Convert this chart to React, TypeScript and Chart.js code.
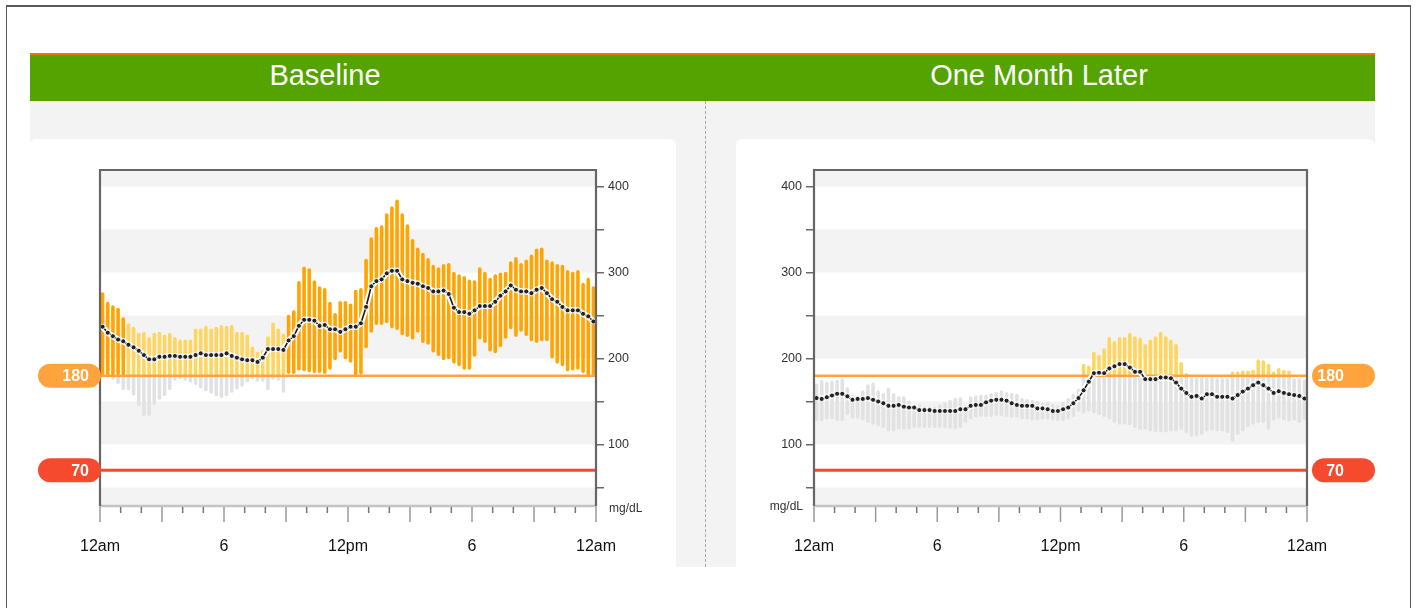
import React, { useEffect, useRef } from 'react';
import { Chart, registerables } from 'chart.js';

Chart.register(...registerables);
Chart.defaults.font.family = '"Liberation Sans", Arial, Helvetica, sans-serif';

// ---------- data ----------
const slotsPerHour = 4; // 15-minute slots, 96 per day
const xTickValues = [0, 6, 12, 18, 24];
const xTickLabels = ['12am', '6', '12pm', '6', '12am'];
const yTickValues = [50, 100, 150, 200, 250, 300, 350, 400];
const yLabelValues = [100, 200, 300, 400];
const bandRanges = [[0, 50], [100, 150], [200, 250], [300, 350], [400, 500]];
const thresholdValues = [180, 70];
const thresholdLabels = ['180', '70'];
const targetHigh = 180;
const severeMedian = 218;
const yMin = 28.5;
const yMax = 419.2;
const panelTitles = ['Baseline', 'One Month Later'];

const baselineHigh = [
  277, 266, 262, 259, 248, 241, 237, 230, 231, 225,
  230, 231, 228, 230, 225, 222, 222, 222, 235, 235,
  238, 235, 237, 239, 238, 239, 231, 231, 228, 214,
  208, 210, 226, 242, 235, 229, 251, 256, 290, 307,
  305, 291, 284, 282, 266, 253, 267, 267, 264, 280,
  282, 316, 341, 353, 355, 369, 377, 385, 369, 356,
  339, 329, 323, 317, 309, 306, 310, 311, 301, 298,
  296, 292, 291, 306, 301, 294, 298, 300, 301, 313,
  318, 311, 315, 321, 328, 329, 315, 313, 310, 309,
  303, 301, 303, 288, 294, 284,
];
const baselineLow = [
  180, 180, 175, 170, 163, 163, 157, 144, 133, 133,
  146, 152, 156, 163, 174, 176, 174, 172, 169, 165,
  162, 159, 156, 154, 156, 160, 164, 167, 172, 176,
  173, 173, 163, 175, 174, 160, 182, 182, 186, 185,
  184, 183, 183, 182, 187, 198, 207, 199, 195, 180,
  181, 212, 230, 239, 239, 241, 235, 233, 227, 225,
  222, 230, 218, 216, 207, 203, 198, 199, 194, 191,
  187, 187, 202, 222, 218, 208, 206, 213, 223, 234,
  225, 231, 226, 220, 218, 220, 220, 200, 194, 191,
  185, 186, 187, 183, 180, 180,
];
const baselineMedian = [
  237, 230, 226, 222, 220, 216, 213, 209, 204, 199,
  199, 202, 202, 203, 203, 202, 202, 202, 204, 206,
  204, 204, 204, 204, 206, 203, 201, 199, 198, 198,
  196, 201, 211, 211, 211, 210, 221, 226, 238, 245,
  245, 244, 238, 239, 234, 234, 231, 234, 237, 237,
  241, 260, 284, 290, 292, 299, 302, 302, 292, 290,
  288, 287, 284, 282, 278, 278, 279, 275, 259, 254,
  254, 252, 256, 261, 261, 261, 266, 273, 278, 285,
  280, 278, 278, 276, 280, 282, 276, 269, 266, 260,
  256, 256, 256, 252, 249, 243,
];

const monthHigh = [
  171, 175, 173, 174, 175, 177, 167, 158, 156, 163,
  170, 172, 163, 160, 166, 160, 156, 156, 151, 147,
  147, 144, 143, 144, 147, 149, 152, 154, 155, 146,
  156, 157, 158, 158, 160, 161, 163, 161, 160, 159,
  154, 153, 152, 151, 149, 150, 147, 146, 150, 154,
  159, 165, 194, 192, 208, 204, 212, 225, 220, 225,
  225, 230, 226, 224, 217, 222, 226, 231, 226, 222,
  217, 196, 183, 178, 178, 178, 178, 178, 177, 177,
  177, 185, 185, 186, 186, 187, 199, 198, 194, 185,
  189, 187, 186, 177, 177, 176,
];
const monthLow = [
  127, 127, 129, 129, 127, 127, 134, 130, 130, 128,
  125, 123, 121, 119, 115, 115, 117, 117, 117, 119,
  119, 119, 119, 119, 119, 119, 118, 118, 119, 125,
  129, 131, 132, 132, 132, 133, 133, 132, 131, 131,
  129, 129, 128, 128, 129, 129, 128, 127, 127, 129,
  132, 138, 136, 138, 136, 134, 132, 129, 125, 123,
  123, 122, 119, 117, 117, 115, 114, 114, 114, 115,
  115, 117, 113, 109, 109, 111, 115, 116, 115, 115,
  113, 103, 111, 115, 120, 123, 125, 125, 117, 128,
  130, 128, 127, 128, 125, 128,
];
const monthMedian = [
  154, 153, 155, 157, 159, 159, 156, 152, 153, 153,
  154, 152, 150, 148, 145, 145, 146, 144, 143, 143,
  140, 140, 140, 139, 139, 139, 139, 139, 141, 141,
  145, 146, 146, 149, 151, 152, 152, 151, 148, 146,
  145, 145, 145, 142, 142, 141, 139, 139, 141, 143,
  148, 154, 163, 173, 183, 183.5, 183, 188.5, 191, 193.5,
  193.5, 189.5, 184.5, 184.5, 176, 176, 176, 178, 178, 177,
  172, 165, 160, 155.5, 156.5, 153.5, 158.5, 158.5, 155.5, 155.5,
  155.5, 153.5, 157.5, 161.5, 165, 169, 172, 169, 165, 160,
  162, 160, 158.5, 157.5, 156.5, 153.5,
];

// ---------- styles ----------
const darkOrange = '#ffa400';
const lightYellow = '#ffd55e';
const grayBar = '#e2e2e2';
const bandGray = '#f3f3f3';
const thresholdColors = ['#ffa43d', '#f64a2e'];

type Side = 'left' | 'right';

function pillPath(ctx: CanvasRenderingContext2D, x: number, y: number, w: number, h: number) {
  const r = h / 2;
  ctx.beginPath();
  ctx.moveTo(x + r, y);
  ctx.lineTo(x + w - r, y);
  ctx.arc(x + w - r, y + r, r, -Math.PI / 2, Math.PI / 2);
  ctx.lineTo(x + r, y + h);
  ctx.arc(x + r, y + r, r, Math.PI / 2, Math.PI * 1.5);
  ctx.closePath();
}

const decorPlugin = {
  id: 'agpDecor',
  beforeDatasetsDraw(chart: any) {
    const { ctx, chartArea: a, scales } = chart;
    const y = scales.y;
    ctx.save();
    ctx.fillStyle = bandGray;
    for (const [lo, hi] of bandRanges) {
      const top = y.getPixelForValue(Math.min(hi, yMax));
      const bot = y.getPixelForValue(Math.max(lo, yMin));
      if (bot > top) ctx.fillRect(a.left, top, a.right - a.left, bot - top);
    }
    ctx.restore();
  },
  beforeDatasetDraw(chart: any, args: any) {
    if (args.index !== 1) return;
    const { ctx, chartArea: a, scales } = chart;
    const y = scales.y;
    ctx.save();
    thresholdValues.forEach((v, k) => {
      const py = y.getPixelForValue(v);
      ctx.strokeStyle = thresholdColors[k];
      ctx.lineWidth = k === 0 ? 2.5 : 3;
      ctx.beginPath();
      ctx.moveTo(a.left, py);
      ctx.lineTo(a.right, py);
      ctx.stroke();
    });
    ctx.restore();
  },
  afterDatasetsDraw(chart: any, _args: any, opts: any) {
    const side: Side = opts.side;
    const { ctx, chartArea: a, scales } = chart;
    const x = scales.x;
    const y = scales.y;
    ctx.save();
    // bottom axis line
    ctx.strokeStyle = '#c4c4c4';
    ctx.lineWidth = 2.5;
    ctx.beginPath();
    ctx.moveTo(a.left - 1, a.bottom);
    ctx.lineTo(a.right + 1, a.bottom);
    ctx.stroke();
    // frame
    ctx.strokeStyle = '#666';
    ctx.lineWidth = 2.2;
    ctx.beginPath();
    ctx.moveTo(a.left, a.bottom);
    ctx.lineTo(a.left, a.top);
    ctx.lineTo(a.right, a.top);
    ctx.lineTo(a.right, a.bottom);
    ctx.stroke();
    // hour ticks
    ctx.lineWidth = 1.5;
    for (let h = 0; h <= 24; h++) {
      const px = x.getPixelForValue(h);
      const major = h % 3 === 0;
      const len = major ? 16 : 7;
      ctx.strokeStyle = major ? '#999' : '#777';
      ctx.beginPath();
      ctx.moveTo(px, a.bottom + 1);
      ctx.lineTo(px, a.bottom + len);
      ctx.stroke();
    }
    // unit label
    ctx.fillStyle = '#333';
    ctx.font = '12px "Liberation Sans", Arial, sans-serif';
    ctx.textBaseline = 'middle';
    if (side === 'left') {
      ctx.textAlign = 'left';
      ctx.fillText('mg/dL', a.right + 13, a.bottom + 3);
    } else {
      ctx.textAlign = 'right';
      ctx.fillText('mg/dL', a.left - 11, a.bottom + 1);
    }
    // threshold pills
    thresholdValues.forEach((v, k) => {
      const py = y.getPixelForValue(v);
      const h = 24;
      const w = 63;
      const px = side === 'left' ? a.left - 62 : a.right + 5;
      ctx.fillStyle = thresholdColors[k];
      pillPath(ctx, px, py - h / 2, w, h);
      ctx.fill();
      ctx.fillStyle = '#ffffff';
      ctx.font = 'bold 16px "Liberation Sans", Arial, sans-serif';
      ctx.textAlign = 'right';
      ctx.textBaseline = 'middle';
      const tx = side === 'left' ? a.left - 11 : a.right + 37;
      ctx.fillText(thresholdLabels[k], tx, py + 1);
    });
    ctx.restore();
  },
};

function makeConfig(high: number[], low: number[], med: number[], side: Side): any {
  const above: any[] = [];
  const aboveColors: string[] = [];
  const below: any[] = [];
  high.forEach((h, i) => {
    const t = (i + 0.5) / slotsPerHour;
    const l = low[i];
    if (h > targetHigh) {
      above.push({ x: t, y: [Math.max(l, targetHigh), h] });
      aboveColors.push(med[i] >= severeMedian ? darkOrange : lightYellow);
    }
    if (l < targetHigh) below.push({ x: t, y: [l, Math.min(h, targetHigh)] });
  });
  const medianPts = med.map((m, i) => ({ x: (i + 0.5) / slotsPerHour, y: m }));

  return {
    type: 'bar',
    data: {
      datasets: [
        {
          type: 'line', label: 'median', data: medianPts, order: 0,
          borderColor: '#1a1a1a', borderWidth: 1.6, tension: 0,
          pointRadius: 2.5, pointBackgroundColor: '#222',
          pointBorderColor: '#ffffff', pointBorderWidth: 0.9,
        },
        {
          type: 'line', label: 'halo', data: medianPts, order: 1,
          borderColor: 'rgba(255,255,255,0.95)', borderWidth: 6, tension: 0,
          pointRadius: 0,
        },
        {
          type: 'bar', label: 'above', data: above, order: 2, grouped: false,
          backgroundColor: aboveColors, maxBarThickness: 3.6,
          borderRadius: 1.8, borderSkipped: false,
        },
        {
          type: 'bar', label: 'below', data: below, order: 3, grouped: false,
          backgroundColor: grayBar, maxBarThickness: 3.6,
          borderRadius: 1.8, borderSkipped: false,
        },
      ],
    },
    options: {
      responsive: false,
      maintainAspectRatio: false,
      animation: false,
      devicePixelRatio: 1,
      events: [],
      layout: {
        padding: side === 'left'
          ? { left: 70, top: 30, right: 0, bottom: 0 }
          : { left: 0, top: 30, right: 68, bottom: 0 },
      },
      plugins: {
        legend: { display: false },
        tooltip: { enabled: false },
        agpDecor: { side },
      },
      scales: {
        x: {
          type: 'linear', min: 0, max: 24, offset: false, position: 'bottom',
          afterBuildTicks: (s: any) => { s.ticks = xTickValues.map((v) => ({ value: v })); },
          afterFit: (s: any) => { s.height = 61; },
          grid: { display: false, drawTicks: false, offset: false },
          border: { display: false },
          ticks: {
            autoSkip: false, maxRotation: 0, padding: 31, color: '#111',
            font: { size: 16 },
            callback: (v: number) => {
              const k = xTickValues.indexOf(v);
              return k >= 0 ? xTickLabels[k] : '';
            },
          },
        },
        y: {
          type: 'linear', position: side === 'left' ? 'right' : 'left',
          min: yMin, max: yMax,
          afterBuildTicks: (s: any) => { s.ticks = yTickValues.map((v) => ({ value: v })); },
          afterFit: (s: any) => { s.width = side === 'left' ? 84 : 78; },
          grid: {
            display: true, drawOnChartArea: false, drawTicks: true,
            tickLength: 8, color: '#6a6a6a', lineWidth: 1.5,
          },
          border: { display: false },
          ticks: {
            padding: 4, color: '#333', font: { size: 12.5 },
            callback: (v: number) => (yLabelValues.includes(v) ? String(v) : ''),
          },
        },
      },
    },
    plugins: [decorPlugin],
  };
}

export default function App() {
  const leftRef = useRef<HTMLCanvasElement | null>(null);
  const rightRef = useRef<HTMLCanvasElement | null>(null);

  useEffect(() => {
    document.body.style.margin = '0';
    document.body.style.overflow = 'hidden';
    const c1 = new Chart(leftRef.current as HTMLCanvasElement, makeConfig(baselineHigh, baselineLow, baselineMedian, 'left'));
    const c2 = new Chart(rightRef.current as HTMLCanvasElement, makeConfig(monthHigh, monthLow, monthMedian, 'right'));
    return () => { c1.destroy(); c2.destroy(); };
  }, []);

  const abs = (s: React.CSSProperties): React.CSSProperties => ({ position: 'absolute', ...s });

  return (
    <div style={abs({ left: 0, top: 0, width: 1416, height: 608, overflow: 'hidden', background: '#fff', fontFamily: '"Liberation Sans", Arial, Helvetica, sans-serif' })}>
      <div style={abs({ left: 6, top: 5, width: 1405, height: 603, borderLeft: '1px solid #555', borderRight: '1px solid #555', borderTop: '2px solid #5a5a5a', boxSizing: 'border-box' })} />
      <div style={abs({ left: 30, top: 53, width: 1345, height: 2, background: '#e47b00' })} />
      <div style={abs({ left: 30, top: 55, width: 1345, height: 46, background: '#55a300' })} />
      <div style={abs({ left: 175, top: 52, width: 300, height: 46, lineHeight: '46px', textAlign: 'center', color: '#fff', fontSize: 29 })}>{panelTitles[0]}</div>
      <div style={abs({ left: 889, top: 52, width: 300, height: 46, lineHeight: '46px', textAlign: 'center', color: '#fff', fontSize: 29 })}>{panelTitles[1]}</div>
      <div style={abs({ left: 30, top: 101, width: 1345, height: 466, background: '#f3f3f3' })} />
      <div style={abs({ left: 705, top: 101, width: 0, height: 466, borderLeft: '1px dashed #a8a8a8' })} />
      <div style={abs({ left: 30, top: 139, width: 646, height: 428, background: '#fff', borderRadius: '6px 6px 0 0' })} />
      <div style={abs({ left: 736, top: 139, width: 639, height: 428, background: '#fff', borderRadius: '6px 6px 0 0' })} />
      <canvas ref={leftRef} width={650} height={427} style={abs({ left: 30, top: 140, width: 650, height: 427 })} />
      <canvas ref={rightRef} width={639} height={427} style={abs({ left: 736, top: 140, width: 639, height: 427 })} />
    </div>
  );
}
